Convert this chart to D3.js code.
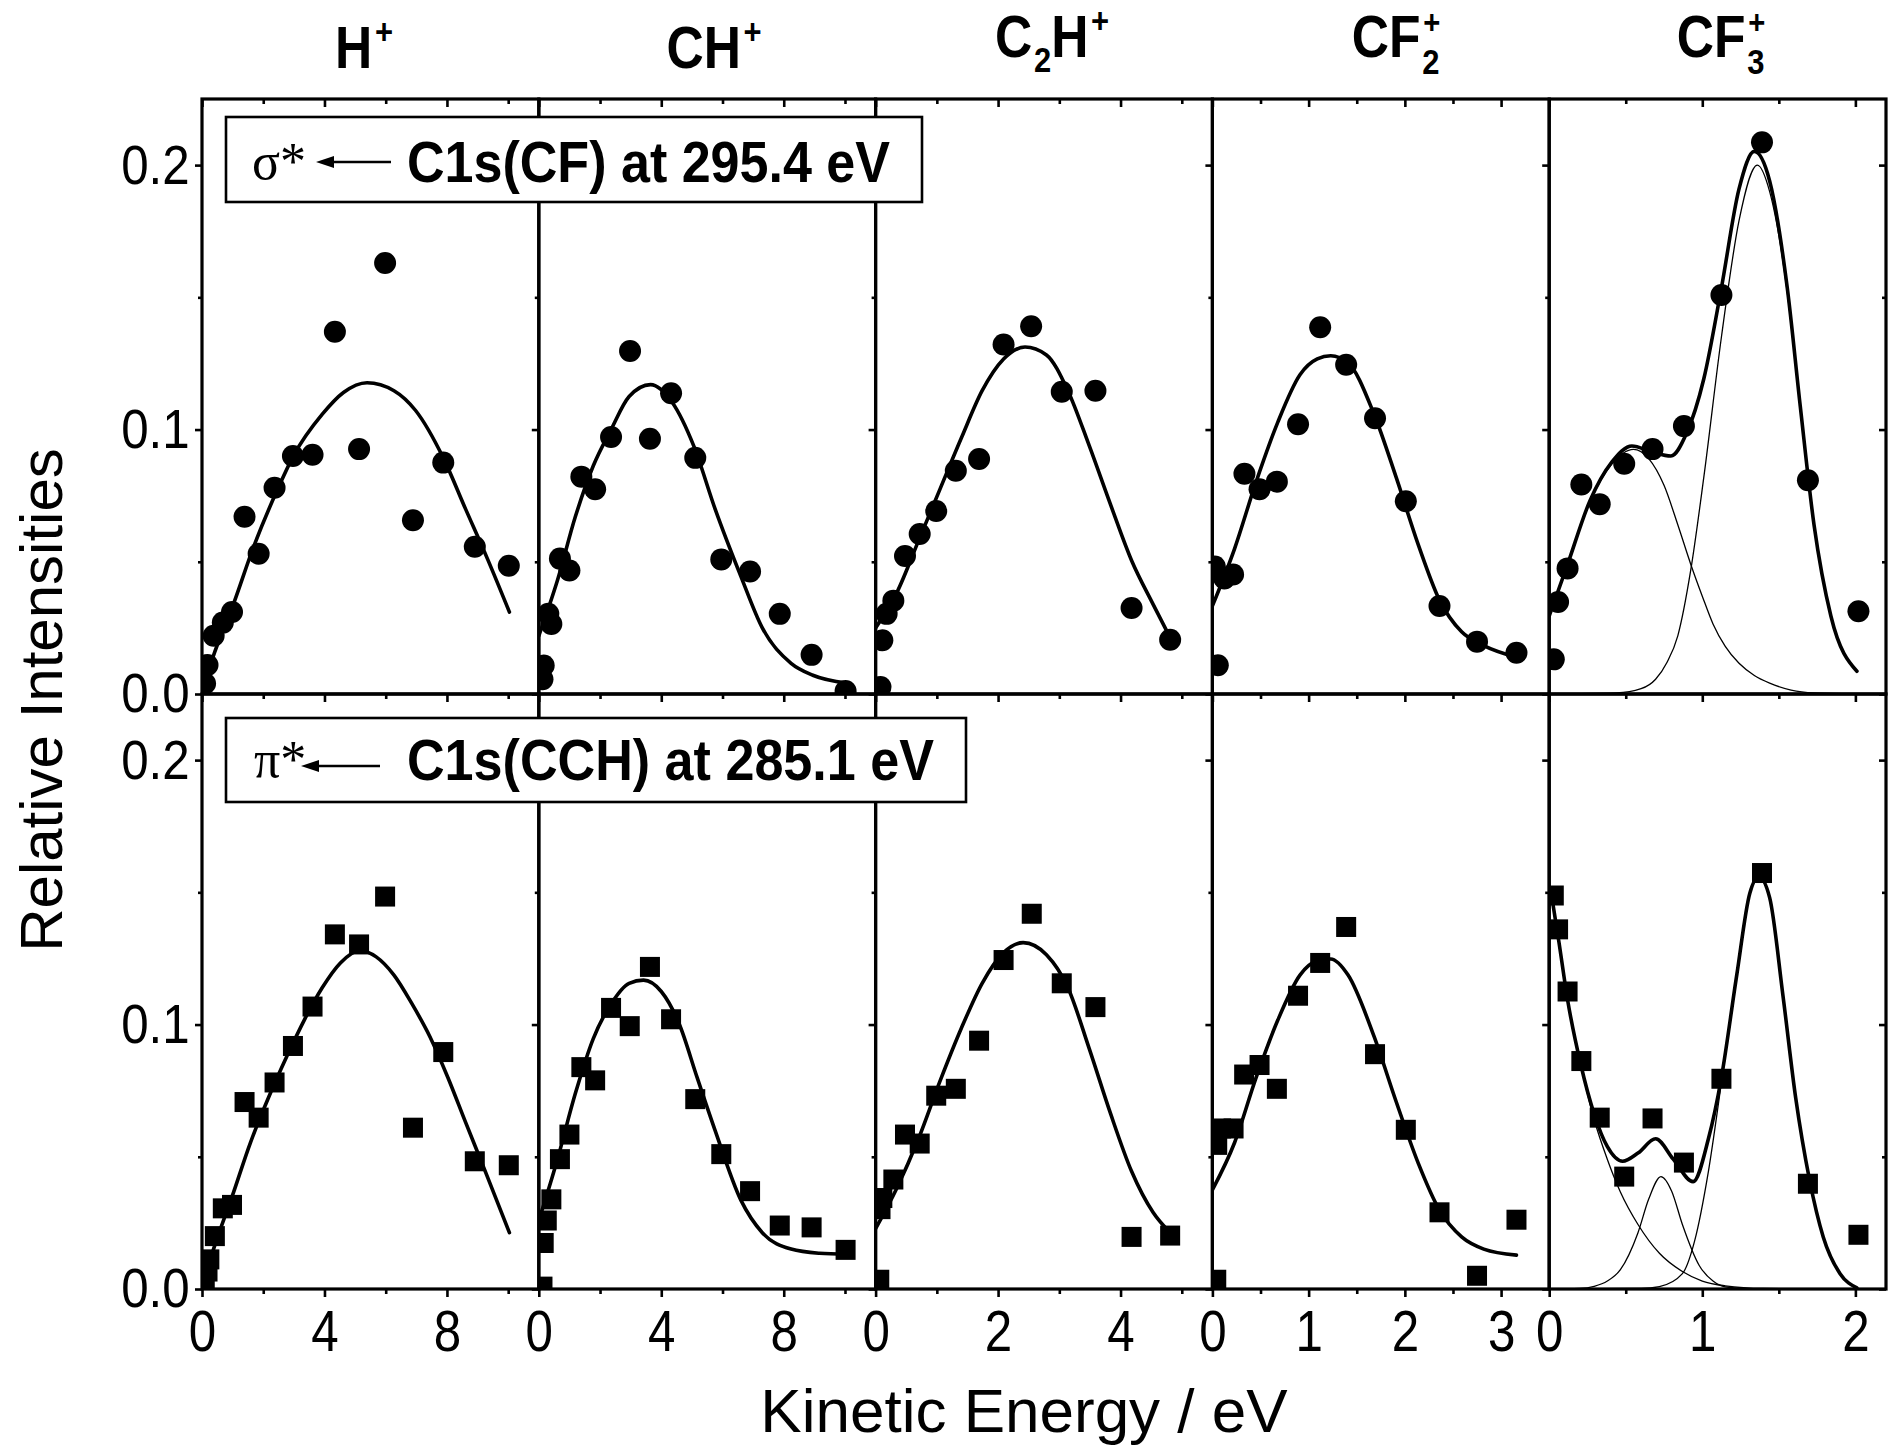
<!DOCTYPE html>
<html>
<head>
<meta charset="utf-8">
<script src="https://cdn.jsdelivr.net/npm/d3@7/dist/d3.min.js"></script>
<style>
  body { margin: 0; background: #fff; }
  svg { display: block; }
</style>
</head>
<body>
<svg width="1888" height="1449"></svg>
<script>
// ---- panels / axes ----
var ions = ["H+", "CH+", "C2H+", "CF2+", "CF3+"];
var xMax = [11, 11, 5.5, 3.5, 2.2];
var xLabelTicks = [[0, 4, 8], [0, 4, 8], [0, 2, 4], [0, 1, 2, 3], [0, 1, 2]];
var xMinorTicks = [[2, 6, 10], [2, 6, 10], [1, 3, 5], [0.5, 1.5, 2.5], [0.5, 1.5]];
var yMax = 0.225;
var yLabelTicks = [0, 0.1, 0.2];
var yMinorTicks = [0.05, 0.15];
var legendSym = ["\u03c3*", "\u03c0*"];
var legendText = ["C1s(CF) at 295.4 eV", "C1s(CCH) at 285.1 eV"];
var ionTitles = [
  [{t: "H"}, {sup: "+"}],
  [{t: "CH"}, {sup: "+"}],
  [{t: "C"}, {sub: "2"}, {t: "H"}, {sup: "+"}],
  [{t: "CF"}, {sub: "2", sup: "+"}],
  [{t: "CF"}, {sub: "3", sup: "+"}]
];

// ---- sigma* <- C1s(CF) at 295.4 eV (circles) ----
var sigHpts = [[0.10,0.004],[0.18,0.011],[0.38,0.022],[0.68,0.027],[0.98,0.031],[1.39,0.067],[1.85,0.053],[2.37,0.078],[2.97,0.090],[3.61,0.0905],[4.34,0.137],[5.13,0.0926],[5.98,0.163],[6.89,0.0657],[7.88,0.0875],[8.91,0.0557],[10.02,0.0485]];
var sigHfit = [[0,0.001],[0.42,0.016],[0.98,0.0325],[1.71,0.0564],[2.41,0.0759],[2.97,0.0897],[3.93,0.1058],[4.62,0.114],[5.39,0.1177],[6.27,0.1147],[6.97,0.1073],[7.88,0.0893],[8.61,0.0699],[9.32,0.0512],[10.04,0.031]];
var sigCHpts = [[0.12,0.0056],[0.16,0.0108],[0.31,0.0303],[0.41,0.0265],[0.69,0.0512],[1.0,0.0467],[1.39,0.0822],[1.84,0.0774],[2.36,0.0972],[2.98,0.1297],[3.63,0.0965],[4.32,0.1137],[5.11,0.0893],[5.96,0.0509],[6.9,0.0463],[7.87,0.0303],[8.91,0.0148],[10.02,0.0011]];
var sigCHfit = [[0,0.022],[0.61,0.043],[1.19,0.0669],[1.78,0.0863],[2.36,0.1],[2.95,0.1125],[3.65,0.117],[4.36,0.1102],[5.06,0.0938],[5.76,0.0699],[6.6,0.0445],[7.3,0.025],[8.24,0.0116],[8.95,0.0071],[10.06,0.0041]];
var sigC2Hpts = [[0.08,0.0026],[0.11,0.0203],[0.18,0.0303],[0.29,0.0353],[0.48,0.0522],[0.72,0.0605],[0.99,0.0692],[1.31,0.0844],[1.69,0.0889],[2.09,0.1322],[2.54,0.1391],[3.04,0.1143],[3.59,0.1147],[4.18,0.0325],[4.81,0.0205]];
var sigC2Hfit = [[0,0.025],[0.35,0.0385],[0.7,0.0579],[1.05,0.0774],[1.4,0.0968],[1.74,0.1147],[2.09,0.1267],[2.44,0.1312],[2.79,0.1282],[3.14,0.1147],[3.49,0.0938],[3.84,0.0714],[4.18,0.0505],[4.53,0.034],[4.81,0.0213]];
var sigCF2pts = [[0.025,0.0482],[0.056,0.0109],[0.124,0.0437],[0.215,0.0452],[0.333,0.0833],[0.49,0.0774],[0.67,0.0803],[0.89,0.102],[1.12,0.1387],[1.39,0.1245],[1.69,0.1043],[2.01,0.0729],[2.36,0.0333],[2.75,0.0198],[3.16,0.0156]];
var sigCF2fit = [[0,0.0333],[0.23,0.0549],[0.455,0.0803],[0.68,0.1028],[0.91,0.1207],[1.09,0.1267],[1.23,0.1279],[1.41,0.1252],[1.68,0.1058],[1.91,0.0819],[2.14,0.0564],[2.36,0.0355],[2.59,0.0235],[2.82,0.0183],[3.16,0.0139]];
var sigCF3pts = [[0.03,0.0131],[0.058,0.0348],[0.12,0.0475],[0.21,0.0792],[0.33,0.0718],[0.49,0.0871],[0.675,0.0926],[0.88,0.1013],[1.125,0.1509],[1.39,0.2086],[1.69,0.0808],[2.02,0.0313]];
var sigCF3fit = [[0,0.0295],[0.12,0.049],[0.265,0.0729],[0.41,0.0878],[0.54,0.0938],[0.67,0.0916],[0.795,0.090],[0.895,0.0983],[1.01,0.1192],[1.125,0.1536],[1.24,0.191],[1.34,0.2052],[1.44,0.194],[1.555,0.1536],[1.64,0.1088],[1.73,0.0639],[1.84,0.0295],[2.01,0.0086]];
var sigCF3comp1 = [[0,0.0295],[0.12,0.049],[0.265,0.0725],[0.41,0.087],[0.55,0.0925],[0.65,0.089],[0.75,0.0789],[0.84,0.064],[0.925,0.049],[1.0,0.037],[1.07,0.0265],[1.15,0.018],[1.24,0.0116],[1.34,0.007],[1.44,0.0041],[1.58,0.0015],[1.73,0.0004],[2.0,0]];
var sigCF3comp2 = [[0,0],[0.44,0.0004],[0.6,0.002],[0.695,0.0056],[0.77,0.012],[0.84,0.022],[0.925,0.047],[1.01,0.082],[1.125,0.135],[1.24,0.179],[1.36,0.2],[1.44,0.19],[1.555,0.152],[1.64,0.108],[1.73,0.063],[1.84,0.029],[2.01,0.0085]];

// ---- pi* <- C1s(CCH) at 285.1 eV (squares) ----
var piHpts = [[0.09,0.0019],[0.18,0.0066],[0.24,0.0112],[0.42,0.02],[0.68,0.0305],[0.98,0.0318],[1.39,0.0707],[1.85,0.0648],[2.37,0.0781],[2.97,0.0919],[3.61,0.1068],[4.34,0.1341],[5.13,0.1303],[5.98,0.1484],[6.89,0.061],[7.88,0.0896],[8.91,0.0483],[10.02,0.0468]];
var piHfit = [[0,0.0012],[0.42,0.0166],[0.99,0.0352],[1.58,0.0553],[2.17,0.0723],[2.76,0.0877],[3.34,0.1017],[3.93,0.114],[4.52,0.1233],[5.16,0.128],[5.69,0.1256],[6.27,0.1187],[6.86,0.1078],[7.44,0.0955],[8.03,0.08],[8.61,0.063],[9.2,0.046],[10.04,0.0213]];
var piCHpts = [[0.12,0.0009],[0.16,0.0174],[0.26,0.0259],[0.41,0.0339],[0.69,0.0491],[1.0,0.0584],[1.39,0.0839],[1.84,0.0789],[2.36,0.1063],[2.97,0.0994],[3.63,0.1218],[4.32,0.102],[5.11,0.0718],[5.96,0.051],[6.9,0.037],[7.87,0.024],[8.91,0.0233],[10.02,0.0148]];
var piCHfit = [[0,0.0259],[0.61,0.0491],[1.19,0.0738],[1.78,0.0947],[2.36,0.1078],[2.95,0.1156],[3.42,0.1168],[4.0,0.1125],[4.59,0.1001],[5.17,0.08],[5.76,0.0599],[6.6,0.0336],[7.3,0.0213],[8.24,0.0151],[9.17,0.0135],[10.06,0.0131]];
var piC2Hpts = [[0.06,0.0035],[0.08,0.0302],[0.11,0.0344],[0.29,0.0414],[0.48,0.0584],[0.72,0.055],[0.99,0.0731],[1.31,0.0757],[1.69,0.0939],[2.09,0.1244],[2.55,0.1419],[3.04,0.1156],[3.59,0.1066],[4.18,0.0197],[4.81,0.0202]];
var piC2Hfit = [[0,0.0228],[0.35,0.0383],[0.7,0.0568],[1.05,0.0785],[1.4,0.0986],[1.74,0.1156],[2.09,0.1272],[2.41,0.131],[2.79,0.1264],[3.14,0.114],[3.49,0.0908],[3.84,0.0661],[4.18,0.0445],[4.53,0.029],[4.81,0.0213]];
var piCF2pts = [[0.04,0.0035],[0.05,0.0545],[0.09,0.0607],[0.22,0.0607],[0.33,0.0811],[0.49,0.0847],[0.67,0.0757],[0.89,0.1109],[1.12,0.1233],[1.39,0.1369],[1.69,0.0888],[2.01,0.0602],[2.36,0.029],[2.75,0.005],[3.16,0.0262]];
var piCF2fit = [[0,0.0375],[0.23,0.0553],[0.455,0.08],[0.68,0.1017],[0.91,0.1187],[1.09,0.1241],[1.23,0.1248],[1.41,0.1187],[1.68,0.0955],[1.91,0.0708],[2.14,0.0475],[2.36,0.0298],[2.59,0.0197],[2.82,0.0151],[3.16,0.0128]];
var piCF3pts = [[0.03,0.1488],[0.058,0.136],[0.12,0.1125],[0.21,0.0862],[0.33,0.0648],[0.49,0.0425],[0.675,0.0645],[0.88,0.0478],[1.125,0.0795],[1.39,0.1573],[1.69,0.0398],[2.02,0.0205]];
var piCF3fit = [[0.015,0.149],[0.064,0.131],[0.12,0.1094],[0.207,0.0847],[0.294,0.0661],[0.38,0.0538],[0.48,0.0483],[0.58,0.0514],[0.695,0.0568],[0.81,0.0491],[0.94,0.0406],[1.04,0.0568],[1.125,0.08],[1.225,0.1187],[1.31,0.1496],[1.37,0.1558],[1.44,0.148],[1.527,0.1109],[1.61,0.0723],[1.7,0.0414],[1.79,0.0197],[1.9,0.0058],[2.01,0.0004]];
var piCF3compA = [[0.015,0.149],[0.064,0.131],[0.12,0.109],[0.207,0.0845],[0.294,0.064],[0.38,0.049],[0.465,0.0367],[0.58,0.0244],[0.72,0.0135],[0.87,0.0066],[1.0,0.003],[1.15,0.0012],[1.4,0.0002],[2.01,0]];
var piCF3compB = [[0,0],[0.2,0.0002],[0.294,0.001],[0.38,0.003],[0.465,0.0073],[0.58,0.0213],[0.65,0.034],[0.73,0.0425],[0.8,0.037],[0.87,0.0244],[0.98,0.0089],[1.07,0.003],[1.15,0.0008],[1.3,0.0001],[2.01,0]];
var piCF3compC = [[0,0],[0.6,0.0002],[0.72,0.0009],[0.87,0.0058],[0.95,0.0182],[1.04,0.0445],[1.125,0.078],[1.225,0.118],[1.31,0.1496],[1.37,0.1558],[1.44,0.148],[1.527,0.1109],[1.61,0.0723],[1.7,0.0414],[1.79,0.0197],[1.9,0.0058],[2.01,0.0004]];

// ---- layout ----
var svg = d3.select("svg"),
    left = 202, right = 1886,
    panelW = (right - left) / 5,
    rowTop = [99, 694], rowH = 595,
    sans = "'Liberation Sans', Arial, Helvetica, sans-serif",
    serif = "'Liberation Serif', 'Times New Roman', serif";

var rows = [
  {pts: [sigHpts, sigCHpts, sigC2Hpts, sigCF2pts, sigCF3pts],
   fit: [sigHfit, sigCHfit, sigC2Hfit, sigCF2fit, sigCF3fit],
   parts: [sigCF3comp1, sigCF3comp2], marker: "circle"},
  {pts: [piHpts, piCHpts, piC2Hpts, piCF2pts, piCF3pts],
   fit: [piHfit, piCHfit, piC2Hfit, piCF2fit, piCF3fit],
   parts: [piCF3compA, piCF3compB, piCF3compC], marker: "square"}
];

var x = ions.map(function(d, i) {
  return d3.scaleLinear().domain([0, xMax[i]]).range([left + i * panelW, left + (i + 1) * panelW]);
});
var y = rowTop.map(function(t) {
  return d3.scaleLinear().domain([0, yMax]).range([t + rowH, t]);
});

var defs = svg.append("defs");

// narrow-looking labels: tall font squeezed sideways
function styleAxis(sel, fs, sx) {
  sel.select(".domain").remove();
  sel.selectAll(".tick line").attr("stroke", "#000").attr("stroke-width", 2.6);
  sel.attr("font-family", sans).attr("font-size", fs).attr("fill", "#000");
  sel.selectAll("text").attr("fill", "#000").attr("transform", "scale(" + sx + ",1)");
}

// data, fits and frames
rows.forEach(function(row, k) {
  ions.forEach(function(ion, i) {
    var id = "clip" + k + "_" + i;
    defs.append("clipPath").attr("id", id).append("rect")
      .attr("x", x[i].range()[0]).attr("y", rowTop[k])
      .attr("width", panelW).attr("height", rowH);

    var g = svg.append("g").attr("clip-path", "url(#" + id + ")");
    var line = d3.line()
      .x(function(d) { return x[i](d[0]); })
      .y(function(d) { return y[k](d[1]); })
      .curve(d3.curveMonotoneX);

    if (i == 4) {
      row.parts.forEach(function(p) {
        g.append("path").attr("d", line(p))
          .attr("fill", "none").attr("stroke", "#000").attr("stroke-width", 1.3);
      });
    }
    g.append("path").attr("d", line(row.fit[i]))
      .attr("fill", "none").attr("stroke", "#000")
      .attr("stroke-width", 3.6).attr("stroke-linejoin", "round").attr("stroke-linecap", "round");

    if (row.marker == "circle") {
      g.selectAll("circle").data(row.pts[i]).enter().append("circle")
        .attr("cx", function(d) { return x[i](d[0]); })
        .attr("cy", function(d) { return y[k](d[1]); })
        .attr("r", 11).attr("fill", "#000");
    } else {
      g.selectAll("rect").data(row.pts[i]).enter().append("rect")
        .attr("x", function(d) { return x[i](d[0]) - 10; })
        .attr("y", function(d) { return y[k](d[1]) - 10; })
        .attr("width", 20).attr("height", 20).attr("fill", "#000");
    }

    svg.append("rect")
      .attr("x", x[i].range()[0]).attr("y", rowTop[k])
      .attr("width", panelW).attr("height", rowH)
      .attr("fill", "none").attr("stroke", "#000").attr("stroke-width", 3.2);
  });
});

// horizontal tick lines (ticks point down everywhere)
[rowTop[0], rowTop[1], rowTop[1] + rowH].forEach(function(yy, n) {
  ions.forEach(function(ion, i) {
    var last = (n == 2);
    svg.append("g").attr("transform", "translate(0," + yy + ")")
      .call(d3.axisBottom(x[i]).tickValues(xMinorTicks[i]).tickSize(5).tickFormat(""))
      .call(styleAxis, 58, 0.85);
    svg.append("g").attr("transform", "translate(0," + yy + ")")
      .call(d3.axisBottom(x[i]).tickValues(xLabelTicks[i]).tickSize(8).tickPadding(13)
        .tickFormat(last ? d3.format("d") : ""))
      .call(styleAxis, 58, 0.85);
  });
});

// vertical tick lines (ticks point left)
rowTop.forEach(function(t, k) {
  var xs = ions.map(function(d, i) { return x[i].range()[0]; }).concat([right]);
  xs.forEach(function(xx, i) {
    svg.append("g").attr("transform", "translate(" + xx + ",0)")
      .call(d3.axisLeft(y[k]).tickValues(yMinorTicks).tickSize(4).tickFormat(""))
      .call(styleAxis, 56, 0.88);
    svg.append("g").attr("transform", "translate(" + xx + ",0)")
      .call(d3.axisLeft(y[k]).tickValues(yLabelTicks).tickSize(7).tickPadding(7)
        .tickFormat(i == 0 ? d3.format(".1f") : ""))
      .call(styleAxis, 56, 0.88);
  });
});

// legend boxes
var boxes = [
  {x: 226, y: 117, w: 696, h: 85, base: 182, sx: 252, a0: 316, a1: 391, ay: 162, tl: 483},
  {x: 226, y: 718, w: 740, h: 84, base: 780, sx: 254, a0: 301, a1: 380, ay: 766, tl: 527}
];
boxes.forEach(function(b, k) {
  var g = svg.append("g");
  g.append("rect").attr("x", b.x).attr("y", b.y).attr("width", b.w).attr("height", b.h)
    .attr("fill", "#fff").attr("stroke", "#000").attr("stroke-width", 2.6);
  g.append("text").attr("x", b.sx).attr("y", b.base - 3)
    .attr("font-family", serif).attr("font-size", 52).text(legendSym[k]);
  g.append("line").attr("x1", b.a0 + 12).attr("x2", b.a1).attr("y1", b.ay).attr("y2", b.ay)
    .attr("stroke", "#000").attr("stroke-width", 2.4);
  g.append("path")
    .attr("d", "M" + b.a0 + "," + b.ay + "L" + (b.a0 + 18) + "," + (b.ay - 6) + "L" + (b.a0 + 18) + "," + (b.ay + 6) + "Z")
    .attr("fill", "#000");
  g.append("text").attr("x", 407).attr("y", b.base)
    .attr("font-family", sans).attr("font-weight", "bold").attr("font-size", 58)
    .attr("textLength", b.tl).attr("lengthAdjust", "spacingAndGlyphs")
    .text(legendText[k]);
});

// ion titles (bold, slightly squeezed)
var titleCx = [364, 714, 1052, 1396, 1721];
var titleBase = [68, 68, 57, 57, 57];
var titleSx = 0.86;
ionTitles.forEach(function(parts, i) {
  var g = svg.append("g").attr("font-family", sans).attr("font-weight", "bold");
  var cur = 0;
  parts.forEach(function(p) {
    var w = 0, el;
    if (p.t) {
      el = g.append("text").attr("x", cur).attr("y", 0).attr("font-size", 60).text(p.t);
      w = el.node().getComputedTextLength();
    }
    if (p.sub) {
      el = g.append("text").attr("x", cur + 2).attr("y", p.sup ? 17 : 15).attr("font-size", 36).text(p.sub);
      w = Math.max(w, el.node().getComputedTextLength() + 2);
    }
    if (p.sup) {
      el = g.append("text").attr("x", cur + 3).attr("y", p.sub ? -23 : -24).attr("font-size", p.sub ? 34 : 36).text(p.sup);
      w = Math.max(w, el.node().getComputedTextLength() + 3);
    }
    cur += w;
  });
  g.attr("transform", "translate(" + (titleCx[i] - cur * titleSx / 2) + "," + titleBase[i] + ") scale(" + titleSx + ",1)");
});

// axis titles
svg.append("text")
  .attr("transform", "translate(62,700) rotate(-90)")
  .attr("text-anchor", "middle")
  .attr("font-family", sans).attr("font-size", 60)
  .text("Relative Intensities");

svg.append("text")
  .attr("x", 1024).attr("y", 1432)
  .attr("text-anchor", "middle")
  .attr("font-family", sans).attr("font-size", 62)
  .text("Kinetic Energy / eV");
</script>
</body>
</html>
